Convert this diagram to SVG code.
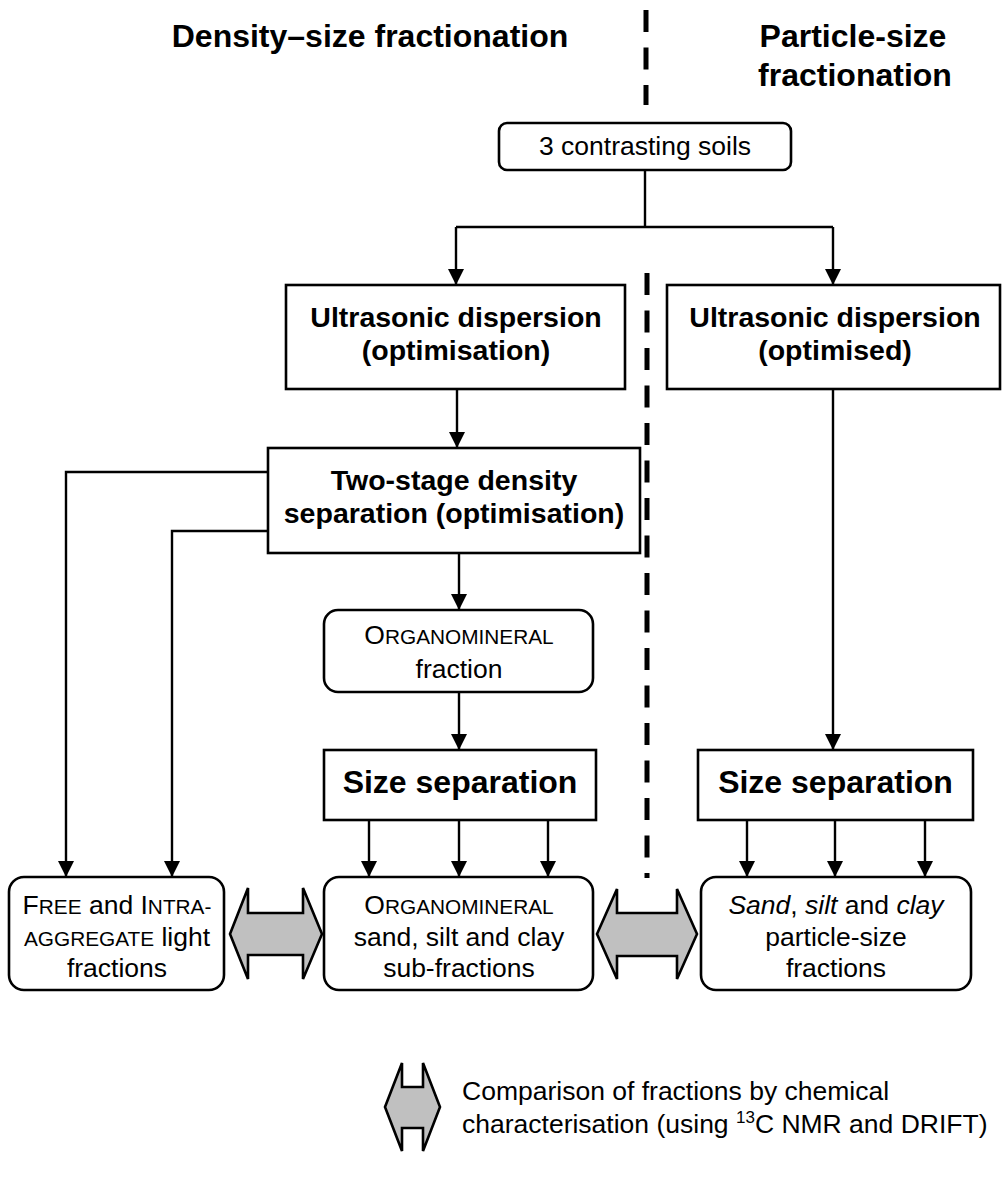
<svg xmlns="http://www.w3.org/2000/svg" width="1003" height="1184" viewBox="0 0 1003 1184">
<style>
text{font-family:"Liberation Sans",Arial,sans-serif;fill:#000;text-anchor:middle}
.t{font-size:32px;font-weight:bold}
.b{font-size:28.5px;font-weight:bold}
.s{font-size:32px;font-weight:bold}
.r{font-size:26.5px}
.sc{font-size:20.8px}
.box{fill:#fff;stroke:#000;stroke-width:2.6}
.c{fill:none;stroke:#000;stroke-width:2.4}
.dash{fill:none;stroke:#000;stroke-width:5;stroke-dasharray:22 15.5}
.dbl{fill:#c0c0c0;stroke:#000;stroke-width:2.6;stroke-linejoin:miter}
</style>
<defs>
<marker id="ah" markerUnits="userSpaceOnUse" markerWidth="18" markerHeight="16" refX="16" refY="8" orient="auto">
<path d="M0,0 L16,8 L0,16 Z" fill="#000"/>
</marker>
</defs>
<rect width="1003" height="1184" fill="#fff"/>
<g id="titles">
<text class="t" x="370" y="47">Density–size fractionation</text>
<text class="t" x="853" y="47">Particle-size</text>
<text class="t" x="855" y="86">fractionation</text>
</g>
<g id="divider">
<line class="dash" x1="646" y1="10" x2="646" y2="105"/>
<line class="dash" x1="647" y1="273" x2="647" y2="878"/>
</g>
<g id="connectors">
<path class="c" d="M645,170 V227 M456,227 H833"/>
<path class="c" d="M456,227 V285" marker-end="url(#ah)"/>
<path class="c" d="M833,227 V285" marker-end="url(#ah)"/>
<path class="c" d="M457,389 V448" marker-end="url(#ah)"/>
<path class="c" d="M268,472 H66 V877" marker-end="url(#ah)"/>
<path class="c" d="M268,531 H172 V877" marker-end="url(#ah)"/>
<path class="c" d="M459,553 V610" marker-end="url(#ah)"/>
<path class="c" d="M459,692 V750" marker-end="url(#ah)"/>
<path class="c" d="M369,820 V877" marker-end="url(#ah)"/>
<path class="c" d="M459,820 V877" marker-end="url(#ah)"/>
<path class="c" d="M548,820 V877" marker-end="url(#ah)"/>
<path class="c" d="M833,389 V750" marker-end="url(#ah)"/>
<path class="c" d="M747,820 V877" marker-end="url(#ah)"/>
<path class="c" d="M835,820 V877" marker-end="url(#ah)"/>
<path class="c" d="M925,820 V877" marker-end="url(#ah)"/>
</g>
<g id="soils">
<rect class="box" x="499" y="123" width="292" height="47" rx="8"/>
<text class="r" x="645" y="155">3 contrasting soils</text>
</g>
<g id="ultra-left">
<rect class="box" x="286" y="285" width="339" height="104"/>
<text class="b" x="456" y="327">Ultrasonic dispersion</text>
<text class="b" x="456" y="360">(optimisation)</text>
</g>
<g id="ultra-right">
<rect class="box" x="667" y="285" width="333" height="104"/>
<text class="b" x="835" y="327">Ultrasonic dispersion</text>
<text class="b" x="835" y="360">(optimised)</text>
</g>
<g id="density">
<rect class="box" x="268" y="448" width="372" height="105"/>
<text class="b" x="454" y="490">Two-stage density</text>
<text class="b" x="454" y="523">separation (optimisation)</text>
</g>
<g id="organo">
<rect class="box" x="324" y="610" width="269" height="82" rx="14"/>
<text class="r" x="459" y="644">O<tspan class="sc">RGANOMINERAL</tspan></text>
<text class="r" x="459" y="678">fraction</text>
</g>
<g id="size-left">
<rect class="box" x="324" y="750" width="272" height="70"/>
<text class="s" x="460" y="793">Size separation</text>
</g>
<g id="size-right">
<rect class="box" x="698" y="750" width="275" height="70"/>
<text class="s" x="835.5" y="793">Size separation</text>
</g>
<g id="light">
<rect class="box" x="9" y="877" width="215" height="113" rx="15"/>
<text class="r" x="117" y="914">F<tspan class="sc">REE</tspan> and I<tspan class="sc">NTRA-</tspan></text>
<text class="r" x="117" y="946"><tspan class="sc">AGGREGATE</tspan> light</text>
<text class="r" x="117" y="977">fractions</text>
</g>
<g id="organo-sub">
<rect class="box" x="324" y="877" width="269" height="113" rx="15"/>
<text class="r" x="459" y="914">O<tspan class="sc">RGANOMINERAL</tspan></text>
<text class="r" x="459" y="946">sand, silt and clay</text>
<text class="r" x="459" y="977">sub-fractions</text>
</g>
<g id="psf">
<rect class="box" x="701" y="877" width="270" height="113" rx="15"/>
<text class="r" x="836" y="914"><tspan font-style="italic">Sand</tspan>, <tspan font-style="italic">silt</tspan> and <tspan font-style="italic">clay</tspan></text>
<text class="r" x="836" y="946">particle-size</text>
<text class="r" x="836" y="977">fractions</text>
</g>
<g id="compare-1">
<path class="dbl" d="M230,934 L248,888 V913 H303 V888 L322,934 L303,979 V955 H248 V979 Z"/>
</g>
<g id="compare-2">
<path class="dbl" d="M597,934 L617,889 V913 H677 V889 L697,934 L677,979 V956 H617 V979 Z"/>
</g>
<g id="legend">
<path class="dbl" d="M385,1107 L402,1063 V1087 H423 V1063 L440,1107 L423,1151 V1128 H402 V1151 Z"/>
<text class="r" x="462" y="1100" style="text-anchor:start">Comparison of fractions by chemical</text>
<text class="r" x="462" y="1133" style="text-anchor:start">characterisation (using <tspan font-size="17" dy="-10">13</tspan><tspan dy="10">C NMR and DRIFT)</tspan></text>
</g>
</svg>
